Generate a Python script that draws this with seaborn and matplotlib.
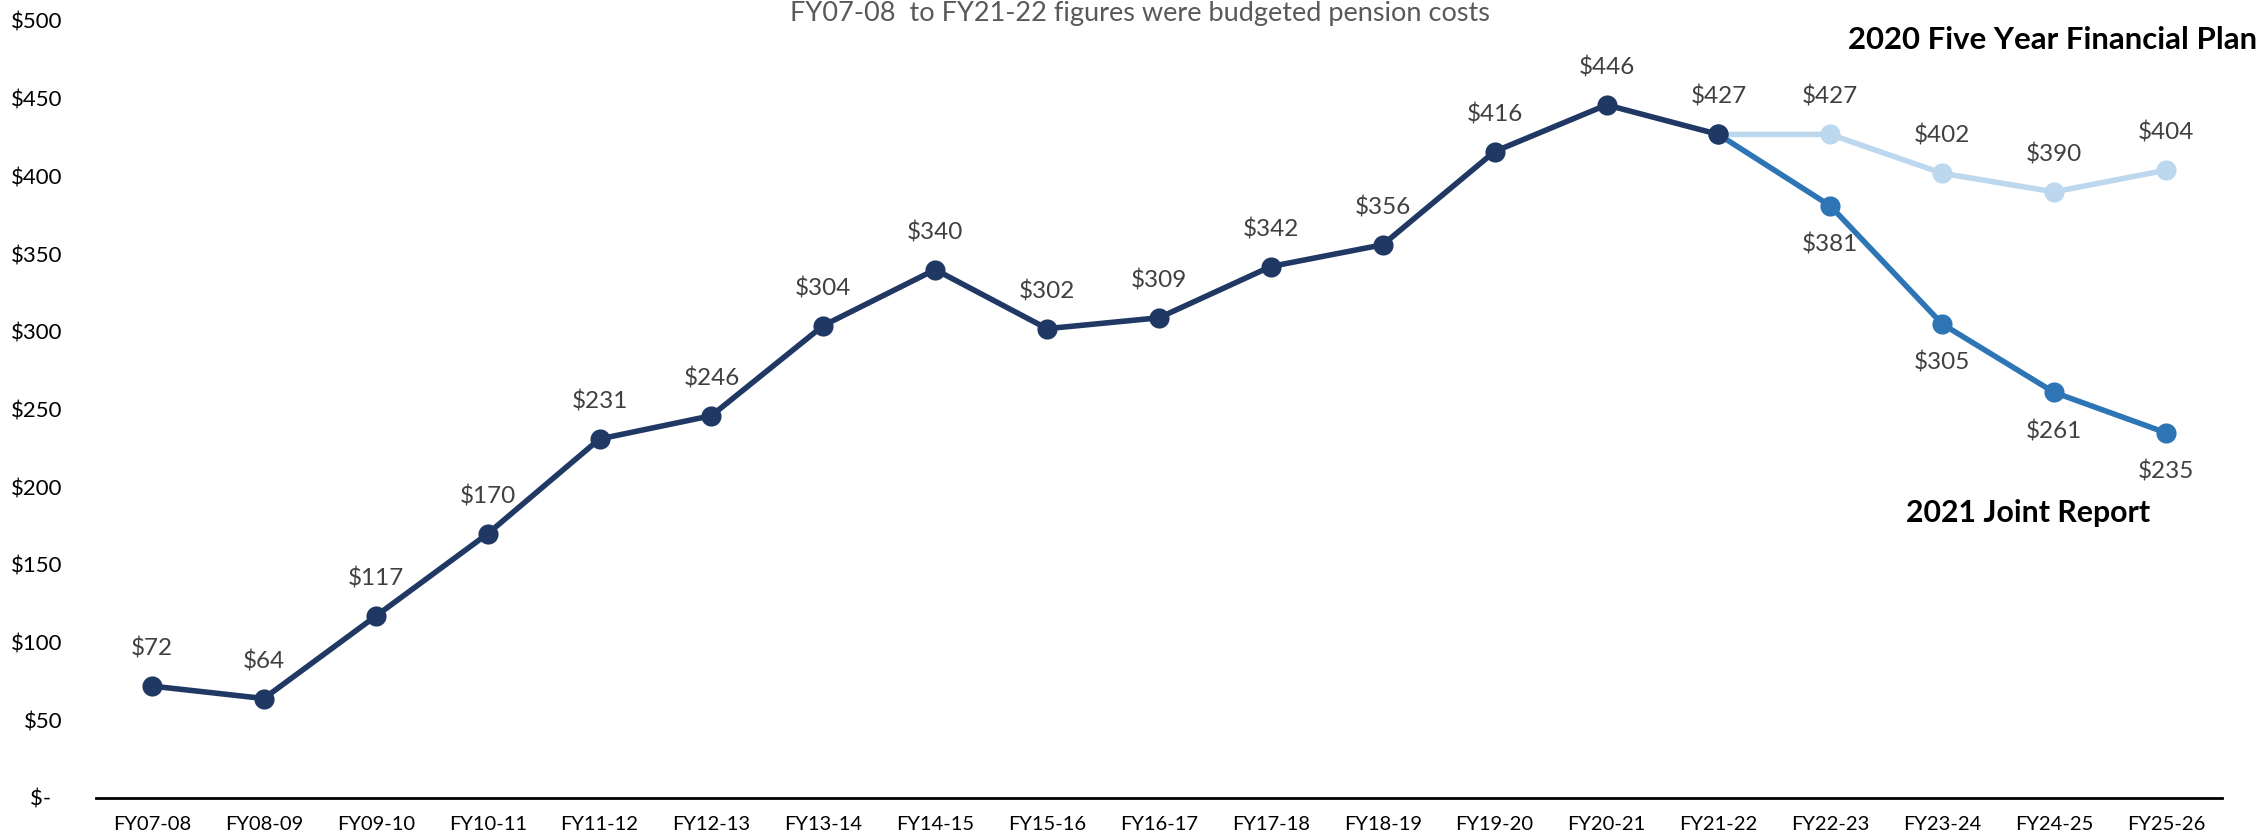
import pandas as pd
import matplotlib.pyplot as plt
import seaborn as sns

# fiscal years on the x axis
years = ["FY07-08", "FY08-09", "FY09-10", "FY10-11", "FY11-12", "FY12-13", "FY13-14",
         "FY14-15", "FY15-16", "FY16-17", "FY17-18", "FY18-19", "FY19-20", "FY20-21",
         "FY21-22", "FY22-23", "FY23-24", "FY24-25", "FY25-26"]

# budgeted pension costs ($M)
budget = [72, 64, 117, 170, 231, 246, 304, 340, 302, 309, 342, 356, 416, 446, 427]
# 2020 five year financial plan, from FY21-22
plan_2020 = [427, 427, 402, 390, 404]
# 2021 joint report, from FY21-22
joint_2021 = [427, 381, 305, 261, 235]

y_ticks = [0, 50, 100, 150, 200, 250, 300, 350, 400, 450, 500]
y_labels = ["$-  ", "$50", "$100", "$150", "$200", "$250", "$300", "$350", "$400", "$450", "$500"]

dark = "#203864"
mid = "#2E75B6"
light = "#BDD7EE"

sns.set_theme(style="white")
plt.rcParams["font.family"] = ["Lato", "DejaVu Sans"]

pos = {y: i for i, y in enumerate(years)}
df_budget = pd.DataFrame({"x": [pos[y] for y in years[:len(budget)]], "cost": budget})
start = len(budget) - 1
df_plan = pd.DataFrame({"x": [pos[y] for y in years[start:start + len(plan_2020)]], "cost": plan_2020})
df_joint = pd.DataFrame({"x": [pos[y] for y in years[start:start + len(joint_2021)]], "cost": joint_2021})

fig = plt.figure(figsize=(22.59, 8.39), dpi=100)
ax = fig.add_axes([0.0425, 0.0489, 0.9411, 0.9261])

style = dict(marker="o", markersize=14.5, linewidth=4, markeredgewidth=0)
sns.lineplot(data=df_plan, x="x", y="cost", color=light, ax=ax, **style)
sns.lineplot(data=df_joint, x="x", y="cost", color=mid, ax=ax, **style)
sns.lineplot(data=df_budget, x="x", y="cost", color=dark, ax=ax, **style)

lab = dict(textcoords="offset points", ha="center", va="center", fontsize=17.5, color="#404040")
for x, v in zip(df_budget["x"], df_budget["cost"]):
    ax.annotate(f"${v}", (x, v), xytext=(0, 27), **lab)
for x, v in list(zip(df_plan["x"], df_plan["cost"]))[1:]:
    ax.annotate(f"${v}", (x, v), xytext=(0, 27), **lab)
for x, v in list(zip(df_joint["x"], df_joint["cost"]))[1:]:
    ax.annotate(f"${v}", (x, v), xytext=(0, -28), **lab)

ax.set_xlim(-0.5, len(years) - 0.5)
ax.set_ylim(0, 500)
ax.set_xticks(range(len(years)))
ax.set_xticklabels(years)
ax.set_yticks(y_ticks)
ax.set_yticklabels(y_labels)
ax.tick_params(axis="x", length=0, pad=13, labelsize=14.5, labelcolor="black")
ax.tick_params(axis="y", length=0, pad=24, labelsize=16, labelcolor="black")
ax.set_xlabel("")
ax.set_ylabel("")
for s in ["top", "right", "left"]:
    ax.spines[s].set_visible(False)
ax.spines["bottom"].set_color("black")
ax.spines["bottom"].set_linewidth(2)

fig.text(0.5046, 0.975, "FY07-08  to FY21-22 figures were budgeted pension costs",
         ha="center", va="baseline", fontsize=19.5, color="#595959")
fig.text(0.999, 0.952, "2020 Five Year Financial Plan", ha="right", va="center",
         fontsize=22.4, fontweight="bold", color="black")
fig.text(0.9517, 0.3886, "2021 Joint Report", ha="right", va="center",
         fontsize=21.8, fontweight="bold", color="black")

fig.savefig("out.png", dpi=100)
